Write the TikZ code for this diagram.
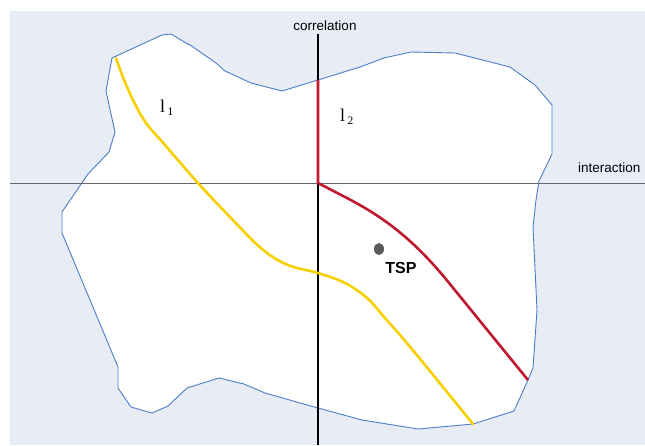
\documentclass[tikz,border=0pt]{standalone}
\usepackage{fontspec}
\setmainfont{Liberation Serif}
\setsansfont{Liberation Sans}
\usepackage{tikz}
\usetikzlibrary{calc, positioning, shapes.geometric}
\usepackage{xcolor}
\definecolor{panel}{RGB}{232, 236, 245}
\definecolor{rim}{RGB}{74, 126, 200}
\definecolor{cutA}{RGB}{246, 208, 0}
\definecolor{cutB}{RGB}{192, 24, 47}
\definecolor{spot}{RGB}{90, 90, 90}

\begin{document}
\begin{tikzpicture}[x=1pt, y=-1pt, font=\sffamily]
  \useasboundingbox (0,0) rectangle (645,445);
  \fill[panel] (10,11) rectangle (645,445);

  % region of feasible points
  \draw[rim, line width=0.9pt, fill=white, line join=round]
    (112,58) -- (162,35) -- (171,34) -- (186,43) -- (190,45) -- (216,63) -- (225,71)
    -- (251,83) -- (282,91) -- (318,80) -- (360,67) -- (384,58) -- (411,52)
    -- (455,53) -- (510,67) -- (535,85) -- (552,105) -- (552,154) -- (539,181)
    -- (536,200) -- (533,227) -- (537,310) -- (533,368) -- (528,380) -- (514,411)
    -- (473,424) -- (418,429) -- (362,420) -- (318,408) -- (265,393) -- (244,384)
    -- (219,378) -- (187,388) -- (168,406) -- (152,413) -- (131,407) -- (118,388)
    -- (118,367) -- (62,233) -- (62,212) -- (88,174) -- (109,152) -- (115,132)
    -- (106,91) -- cycle;

  % axes
  \coordinate (xl) at (10,183);
  \coordinate (xr) at (645,183);
  \coordinate (yt) at (318,34);
  \coordinate (yb) at (318,445);
  \coordinate (o) at (318,183);
  \draw[gray!80!black, line width=1pt] (xl) -- (xr);
  \draw[black, line width=2pt] (yt) -- (yb);
  \node[font=\sffamily\fontsize{13.5}{16}\selectfont] (corr) at (325,26) {correlation};
  \node[font=\sffamily\fontsize{13.5}{16}\selectfont, anchor=east] (inter) at (644,168) {interaction};

  % first boundary
  \draw[cutA, line width=2.6pt, line cap=round] plot[smooth, tension=0.6] coordinates {
    (116,58) (127,87) (144,120) (165,145) (198,183) (230,217) (262,249)
    (288,265) (318,273) (345,283) (367,298) (385,318) (411,348) (473,424)};

  % second boundary
  \coordinate (b0) at (318,80);
  \coordinate (b1) at (345,197);
  \coordinate (b2) at (445,278);
  \coordinate (b3) at (528,380);
  \draw[cutB, line width=2.6pt, line join=round]
    (b0) -- (o) -- (b1) .. controls (380,215) and (410,236) .. (b2) -- (b3);

  \node[font=\rmfamily\fontsize{18}{18}\selectfont, anchor=base west, inner sep=0pt] (l1) at (160,112.5)
    {l\hspace{2.5pt}\raisebox{-2.5pt}{\fontsize{11.5}{11.5}\selectfont 1}};
  \node[font=\rmfamily\fontsize{18}{18}\selectfont, anchor=base west, inner sep=0pt] (l2) at (340,121.5)
    {l\hspace{2.5pt}\raisebox{-2.5pt}{\fontsize{11.5}{11.5}\selectfont 2}};

  % test point
  \node[fill=spot, ellipse, minimum width=10pt, minimum height=12pt, inner sep=0pt] (tsp) at (379,249) {};
  \node[font=\sffamily\bfseries\fontsize{16}{16}\selectfont] (tsplab) at (401,268) {TSP};
\end{tikzpicture}
\end{document}
